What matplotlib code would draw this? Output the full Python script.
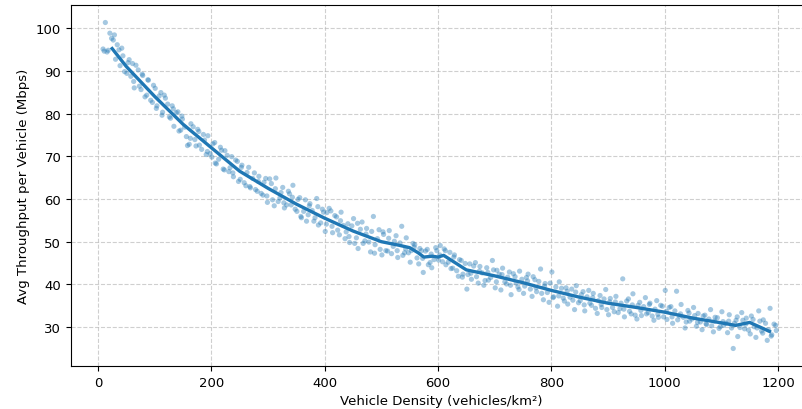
import matplotlib
matplotlib.use("Agg")
from matplotlib import pyplot as plt

# scatter samples (two passes over the cloud)
density = [
  11, 13, 21, 16, 27, 34, 39, 44, 51, 55,
  61, 64, 71, 76, 79, 86, 89, 96, 101, 104,
  111, 114, 119, 126, 131, 134, 141, 146, 149, 156,
  161, 164, 171, 176, 179, 186, 191, 194, 201, 206,
  209, 216, 221, 224, 231, 236, 239, 246, 251, 254,
  261, 266, 269, 276, 281, 284, 291, 296, 299, 306,
  311, 314, 321, 326, 329, 336, 341, 344, 351, 356,
  359, 366, 371, 374, 381, 386, 389, 396, 401, 404,
  411, 414, 421, 426, 429, 436, 441, 444, 451, 456,
  459, 466, 471, 474, 481, 486, 489, 496, 501, 504,
  511, 514, 521, 526, 529, 536, 541, 544, 551, 556,
  559, 566, 571, 574, 581, 586, 589, 596, 601, 604,
  611, 614, 621, 626, 629, 636, 641, 644, 651, 656,
  659, 666, 671, 674, 681, 686, 689, 696, 701, 704,
  711, 714, 721, 726, 729, 736, 741, 744, 751, 756,
  759, 766, 771, 774, 781, 786, 789, 796, 801, 804,
  811, 814, 821, 826, 829, 836, 841, 844, 851, 856,
  859, 866, 871, 874, 881, 886, 889, 896, 901, 904,
  911, 914, 921, 926, 929, 936, 941, 944, 951, 956,
  959, 966, 971, 974, 981, 986, 989, 996, 1001, 1004,
  1011, 1014, 1021, 1026, 1029, 1036, 1041, 1044, 1051, 1056,
  1059, 1066, 1071, 1074, 1081, 1086, 1089, 1096, 1101, 1104,
  1111, 1114, 1121, 1126, 1129, 1136, 1141, 1144, 1151, 1156,
  1161, 1166, 1171, 1174, 1181, 1186, 1189, 1196,
]
throughput = [
  94.6, 101.3, 98.8, 94.4, 97.2, 96.1, 91.2, 93.5, 89.4, 92.6,
  91.7, 86.0, 90.2, 85.6, 88.9, 84.3, 87.8, 82.6, 85.9, 81.8,
  84.9, 80.3, 83.6, 79.2, 81.8, 77.0, 80.4, 76.1, 78.7, 74.6,
  72.8, 77.6, 73.9, 76.3, 72.6, 75.1, 70.4, 74.8, 69.8, 73.2,
  68.2, 72.1, 67.0, 71.3, 66.4, 69.9, 65.2, 68.8, 64.6, 67.9,
  63.1, 67.4, 62.6, 66.1, 61.8, 65.3, 60.9, 64.8, 59.2, 63.6,
  58.4, 64.9, 60.2, 62.7, 57.9, 61.8, 58.6, 63.2, 57.1, 60.3,
  55.6, 59.8, 56.3, 58.9, 54.8, 60.1, 53.9, 57.6, 52.4, 56.8,
  57.2, 52.1, 55.8, 51.6, 56.9, 50.7, 54.2, 49.8, 55.4, 50.9,
  48.4, 54.6, 50.2, 53.1, 47.6, 55.9, 49.3, 52.8, 46.9, 51.7,
  47.8, 52.6, 48.9, 51.4, 46.3, 53.6, 47.4, 50.9, 45.2, 49.6,
  49.3, 44.8, 47.9, 42.8, 48.2, 45.1, 43.9, 48.6, 45.7, 49.1,
  48.3, 44.6, 47.5, 43.8, 46.9, 41.9, 45.6, 42.4, 38.9, 44.8,
  41.2, 45.1, 40.3, 44.2, 39.8, 43.9, 41.0, 45.6, 39.2, 43.3,
  38.7, 43.8, 40.1, 42.9, 37.6, 41.8, 39.4, 43.1, 37.9, 41.6,
  42.4, 37.2, 41.1, 38.3, 43.6, 36.4, 40.2, 35.8, 42.9, 37.1,
  34.9, 40.6, 36.8, 39.2, 35.4, 38.9, 34.1, 39.7, 36.2, 38.3,
  33.8, 38.6, 35.1, 37.9, 33.2, 37.4, 34.6, 38.8, 32.9, 36.7,
  33.6, 37.2, 34.3, 41.3, 32.4, 36.6, 33.1, 37.8, 31.9, 35.8,
  32.7, 36.9, 33.4, 35.6, 31.6, 36.2, 32.3, 34.9, 38.6, 31.8,
  34.8, 30.9, 38.4, 32.6, 35.3, 29.8, 33.9, 31.4, 34.6, 30.2,
  33.2, 29.4, 32.8, 30.6, 34.1, 28.9, 32.3, 29.7, 33.6, 30.4,
  28.7, 32.9, 25.0, 31.6, 27.8, 33.4, 29.6, 32.1, 28.4, 31.8,
  27.6, 33.8, 29.1, 31.7, 26.9, 34.4, 28.2, 30.4,
]
density_b = [
  9, 18, 24, 29, 31, 37, 42, 47, 53, 58,
  63, 67, 73, 78, 83, 88, 93, 98, 103, 108,
  113, 117, 123, 128, 133, 138, 143, 148, 153, 158,
  163, 168, 173, 178, 183, 188, 193, 198, 203, 207,
  213, 218, 223, 228, 233, 238, 243, 248, 253, 258,
  263, 268, 273, 278, 283, 288, 293, 298, 303, 308,
  313, 318, 323, 328, 333, 338, 343, 348, 353, 358,
  363, 368, 373, 378, 383, 388, 393, 398, 403, 408,
  413, 418, 423, 428, 433, 438, 443, 448, 453, 458,
  463, 468, 473, 478, 483, 488, 493, 498, 503, 508,
  513, 518, 523, 528, 533, 538, 543, 548, 553, 558,
  563, 568, 573, 578, 583, 588, 593, 598, 603, 608,
  613, 618, 623, 628, 633, 638, 643, 648, 653, 658,
  663, 668, 673, 678, 683, 688, 693, 698, 703, 708,
  713, 718, 723, 728, 733, 738, 743, 748, 753, 758,
  763, 768, 773, 778, 783, 788, 793, 798, 803, 808,
  813, 818, 823, 828, 833, 838, 843, 848, 853, 858,
  863, 868, 873, 878, 883, 888, 893, 898, 903, 908,
  913, 918, 923, 928, 933, 938, 943, 948, 953, 958,
  963, 968, 973, 978, 983, 988, 993, 998, 1003, 1008,
  1013, 1018, 1023, 1028, 1033, 1038, 1043, 1048, 1053, 1058,
  1063, 1068, 1073, 1078, 1083, 1088, 1093, 1098, 1103, 1108,
  1113, 1118, 1123, 1128, 1133, 1138, 1143, 1148, 1153, 1158,
  1163, 1168, 1173, 1178, 1183, 1188, 1193, 1197,
]
throughput_b = [
  95.1, 94.8, 97.6, 98.4, 92.7, 94.9, 95.3, 89.8, 91.9, 88.7,
  87.5, 91.3, 86.4, 89.2, 83.9, 87.9, 83.1, 86.6, 81.2, 84.1,
  79.6, 84.3, 82.2, 78.9, 81.1, 80.2, 75.9, 79.4, 76.8, 72.5,
  74.2, 76.9, 72.4, 75.8, 71.6, 73.8, 71.1, 70.6, 72.9, 68.4,
  69.3, 71.4, 66.8, 70.2, 67.3, 66.1, 69.1, 64.1, 67.4, 63.8,
  66.2, 62.9, 64.8, 62.2, 64.1, 61.3, 63.9, 60.7, 64.7, 59.8,
  62.4, 59.4, 61.5, 59.1, 58.6, 61.2, 60.4, 57.6, 59.9, 55.9,
  57.1, 54.8, 58.4, 57.3, 55.6, 58.2, 54.4, 56.9, 54.1, 57.8,
  53.6, 56.1, 52.7, 54.9, 53.8, 52.3, 51.2, 53.7, 49.6, 54.3,
  52.9, 49.6, 51.8, 49.9, 52.4, 47.3, 50.7, 48.2, 52.3, 47.9,
  50.8, 47.2, 50.1, 47.9, 49.7, 46.8, 48.3, 47.4, 47.9, 48.7,
  46.2, 48.4, 46.1, 47.8, 44.6, 47.1, 45.8, 47.9, 46.9, 45.3,
  47.9, 45.2, 43.7, 46.4, 43.2, 45.8, 41.7, 44.9, 42.3, 42.6,
  44.3, 41.8, 43.1, 42.7, 40.9, 42.8, 41.6, 43.4, 40.6, 42.4,
  42.3, 40.6, 41.7, 39.8, 42.5, 40.3, 38.8, 41.2, 39.6, 40.8,
  38.9, 41.8, 39.2, 40.7, 37.9, 39.6, 38.1, 40.3, 36.9, 39.4,
  37.3, 39.1, 36.1, 38.4, 37.0, 36.3, 38.2, 35.7, 37.6, 35.2,
  37.1, 35.6, 36.9, 34.4, 36.2, 35.3, 36.6, 34.1, 35.9, 34.6,
  35.9, 33.4, 35.6, 34.2, 36.1, 33.7, 35.2, 32.8, 35.1, 33.9,
  34.8, 33.1, 35.3, 32.6, 34.2, 33.0, 35.1, 32.4, 33.7, 34.6,
  32.4, 33.8, 31.7, 33.1, 32.3, 31.2, 33.3, 31.9, 32.7, 31.1,
  31.2, 32.6, 30.8, 31.9, 30.3, 31.4, 32.2, 30.1, 31.3, 30.9,
  31.4, 29.8, 30.9, 32.4, 29.9, 31.6, 30.7, 29.3, 32.6, 30.1,
  29.8, 31.4, 28.6, 30.9, 29.4, 27.9, 30.7, 29.2,
]

# smoothed trend line
trend_x = [25, 50, 100, 150, 200, 250, 300, 350, 400, 450, 500, 530, 550,
           565, 575, 590, 600, 610, 650, 700, 750, 800, 850, 900, 950, 1000,
           1050, 1100, 1125, 1150, 1185]
trend_y = [95.2, 91, 84, 77.5, 72, 66.5, 62.5, 58.8, 55.5, 52.5, 50, 49.2, 48.6,
           47.4, 46.4, 46.6, 46.4, 46.8, 43.4, 42, 40.4, 38.6, 37, 35.6, 34.6, 33.5,
           32.1, 31, 30.4, 31.1, 29]

fig = plt.figure(figsize=(8.02, 4.10), dpi=100)
ax = fig.add_axes([71 / 802, 43 / 410, 741 / 802, 361 / 410])

ax.scatter(density + density_b, throughput + throughput_b, s=14,
           color="#1f77b4", alpha=0.4, edgecolors="none")
ax.plot(trend_x, trend_y, color="#1f77b4", linewidth=2.4)

ax.set_xlim(-47.6, 1260)
ax.set_ylim(20.9, 105.4)
ax.set_xticks([0, 200, 400, 600, 800, 1000, 1200])
ax.set_yticks([30, 40, 50, 60, 70, 80, 90, 100])
ax.grid(True, linestyle="--", color="#bbbbbb", alpha=0.7, linewidth=0.8)
ax.set_axisbelow(True)
ax.tick_params(labelsize=9.5)

ax.set_xlabel("Vehicle Density (vehicles/km²)", fontsize=9.5)
ax.set_ylabel("Avg Throughput per Vehicle (Mbps)", fontsize=9.5)

fig.savefig("out.png", dpi=100)
